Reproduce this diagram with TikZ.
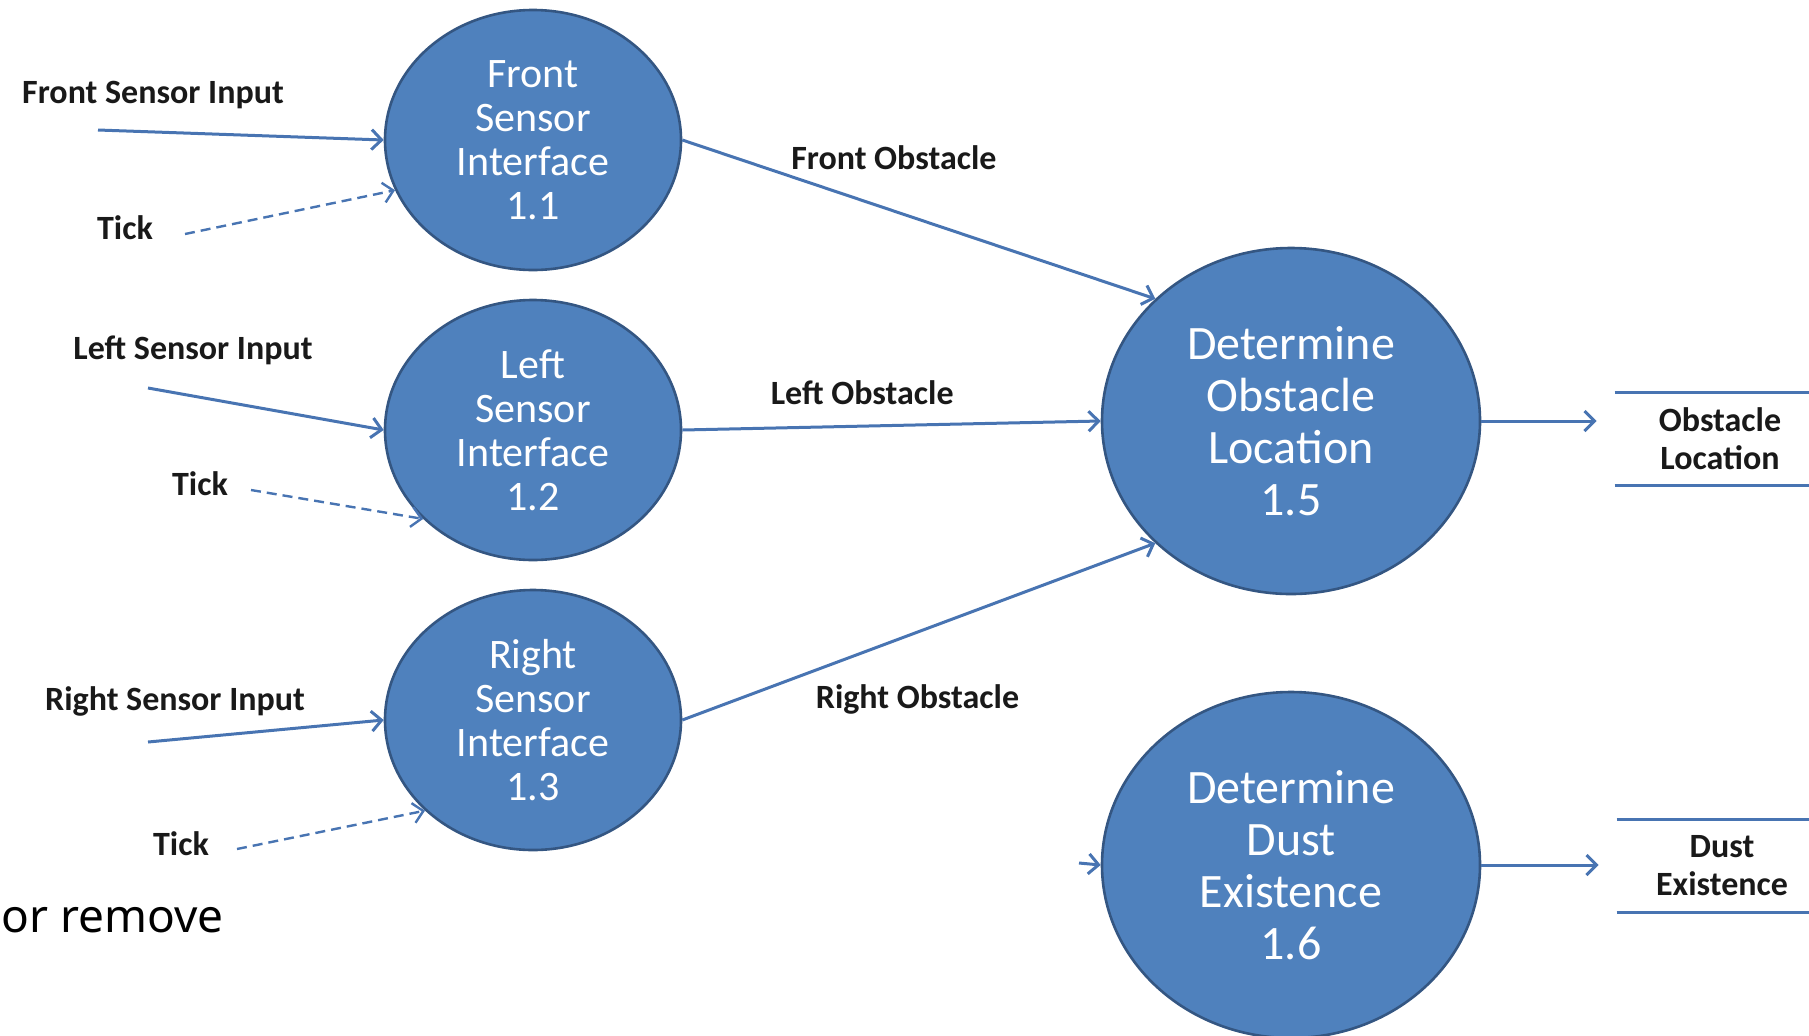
\documentclass[tikz,border=0pt]{standalone}
\usepackage{fontspec}
\setmainfont{Carlito}
\newfontfamily\notefont{Noto Sans}
\usetikzlibrary{positioning,arrows.meta,shapes.geometric}
\definecolor{ProcBlue}{RGB}{79,129,189}
\definecolor{ProcEdge}{RGB}{52,86,130}
\definecolor{FlowBlue}{RGB}{72,116,178}
\definecolor{LabelInk}{RGB}{25,25,25}

\begin{document}
\begin{tikzpicture}[
    x=0.5pt,
    y=-0.5pt,
    >={Straight Barb[length=5pt,width=10pt]},
    proc/.style={
        ellipse,
        draw=ProcEdge,
        line width=1.3pt,
        fill=ProcBlue,
        text=white,
        align=center,
        inner sep=0pt,
        minimum width=148pt,
        minimum height=130pt,
        font=\fontsize{21}{22}\selectfont
    },
    bigproc/.style={
        proc,
        minimum width=189pt,
        minimum height=173pt,
        font=\fontsize{24}{26}\selectfont
    },
    flowlbl/.style={
        text=LabelInk,
        font=\fontsize{17}{19}\selectfont\bfseries,
        align=center,
        inner sep=1pt
    },
    store/.style={
        flowlbl,
        minimum width=105pt,
        minimum height=46pt
    },
    flow/.style={
        ->,
        line width=1.5pt,
        draw=FlowBlue
    },
    clock/.style={
        flow,
        line width=1.2pt,
        dash pattern=on 5pt off 3pt
    },
    storeline/.style={
        line width=1.4pt,
        draw=FlowBlue
    }
]
\useasboundingbox (0,0) rectangle (1809,1035);

\node[proc] (front) at (533,140) {Front\\Sensor\\Interface\\1.1};
\node[proc] (left) at (533,430) {Left\\Sensor\\Interface\\1.2};
\node[proc] (right) at (533,720) {Right\\Sensor\\Interface\\1.3};

\node[bigproc] (obst) at (1291,421) {Determine\\Obstacle\\Location\\1.5};
\node[bigproc] (dust) at (1291,865) {Determine\\Dust\\Existence\\1.6};

\node[store] (locstore) at (1720,439) {Obstacle\\Location};
\node[store] (duststore) at (1722,866) {Dust\\Existence};

\node[flowlbl] (frontlbl) at (153,95) {Front Sensor Input};
\node[flowlbl] (leftlbl) at (193,350) {Left Sensor Input};
\node[flowlbl] (rightlbl) at (175,701) {Right Sensor Input};
\node[flowlbl] (tickfront) at (125,228) {Tick};
\node[flowlbl] (tickleft) at (200,484) {Tick};
\node[flowlbl] (tickright) at (181,844) {Tick};

\node[anchor=base west, inner sep=0pt, font=\notefont\fontsize{23}{27}\selectfont] (note) at (1,932) {or remove};

\coordinate (frontsrc) at (98,130);
\coordinate (leftsrc) at (148,388);
\coordinate (rightsrc) at (148,742);
\coordinate (fronttick) at (185,234);
\coordinate (lefttick) at (251,490);
\coordinate (righttick) at (237,849);
\coordinate (dustsrc) at (1079,863);

\draw[flow] (frontsrc) -- (front.west);
\draw[flow] (leftsrc) -- (left.west);
\draw[flow] (rightsrc) -- (right.west);
\draw[clock] (fronttick) -- (front.200);
\draw[clock] (lefttick) -- (left.219);
\draw[clock] (righttick) -- (right.220);

\draw[flow] (front.east) -- node[flowlbl, pos=0.22, above right=1pt] (frontobs) {Front Obstacle} (obst.138);
\draw[flow] (left.east) -- node[flowlbl, pos=0.43, above=9pt] (leftobs) {Left Obstacle} (obst.west);
\draw[flow] (right.east) -- node[flowlbl, pos=0.26, below right=5pt] (rightobs) {Right Obstacle} (obst.222);

\draw[flow] (dustsrc) -- (dust.west);
\draw[flow, shorten >=9pt] (obst.east) -- (obst.east -| locstore.west);
\draw[flow, shorten >=9pt] (dust.east) -- (dust.east -| duststore.west);

\draw[storeline] (locstore.north west) -- (locstore.north east);
\draw[storeline] (locstore.south west) -- (locstore.south east);
\draw[storeline] (duststore.north west) -- (duststore.north east);
\draw[storeline] (duststore.south west) -- (duststore.south east);

\end{tikzpicture}
\end{document}
